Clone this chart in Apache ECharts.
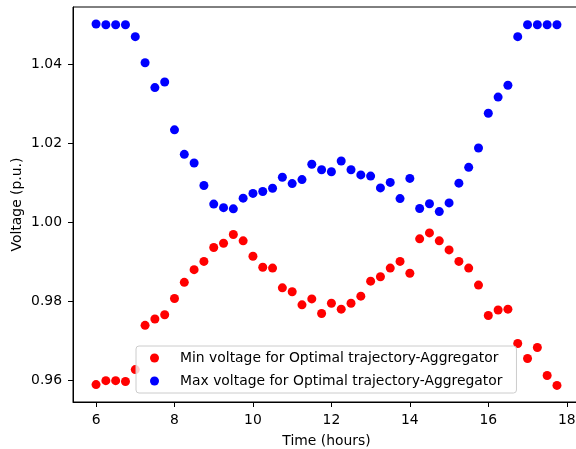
<!DOCTYPE html>
<html>
<head>
<meta charset="utf-8">
<script src="https://cdn.jsdelivr.net/npm/echarts@6/dist/echarts.min.js"></script>
<style>
	html, body { margin: 0; padding: 0; background: #fff; }
	#voltage-chart { width: 576px; height: 449px; }
</style>
</head>
<body>
<div id="voltage-chart"></div>
<script>
	// time of day, every 15 minutes
	const hours = [6, 6.25, 6.5, 6.75, 7, 7.25, 7.5, 7.75, 8, 8.25, 8.5, 8.75,
		9, 9.25, 9.5, 9.75, 10, 10.25, 10.5, 10.75, 11, 11.25, 11.5, 11.75,
		12, 12.25, 12.5, 12.75, 13, 13.25, 13.5, 13.75, 14, 14.25, 14.5, 14.75,
		15, 15.25, 15.5, 15.75, 16, 16.25, 16.5, 16.75, 17, 17.25, 17.5, 17.75];
	const minVoltage = [0.9589, 0.9599, 0.9599, 0.9597, 0.9627, 0.9739, 0.9755, 0.9766,
		0.9807, 0.9848, 0.9880, 0.9901, 0.9936, 0.9947, 0.9969, 0.9953,
		0.9914, 0.9886, 0.9884, 0.9834, 0.9824, 0.9791, 0.9806, 0.9769,
		0.9795, 0.9780, 0.9795, 0.9813, 0.9851, 0.9862, 0.9884, 0.9901,
		0.9871, 0.9958, 0.9973, 0.9953, 0.9930, 0.9901, 0.9884, 0.9841,
		0.9764, 0.9778, 0.9780, 0.9693, 0.9655, 0.9683, 0.9612, 0.9587];
	const maxVoltage = [1.0502, 1.0500, 1.0500, 1.0500, 1.0470, 1.0404, 1.0341, 1.0355,
		1.0234, 1.0172, 1.0150, 1.0093, 1.0046, 1.0037, 1.0034, 1.0061,
		1.0073, 1.0078, 1.0086, 1.0114, 1.0098, 1.0108, 1.0147, 1.0133,
		1.0128, 1.0155, 1.0133, 1.0120, 1.0117, 1.0087, 1.0101, 1.0060,
		1.0111, 1.0035, 1.0047, 1.0027, 1.0049, 1.0099, 1.0139, 1.0188,
		1.0276, 1.0317, 1.0347, 1.0470, 1.0500, 1.0500, 1.0500, 1.0500];
	const xTicks = [6, 8, 10, 12, 14, 16, 18];
	const yTicks = [0.96, 0.98, 1.00, 1.02, 1.04];
	const seriesNames = ['Min voltage for Optimal trajectory-Aggregator', 'Max voltage for Optimal trajectory-Aggregator'];

	function pairs(vals) {
		return hours.map((h, i) => [h, vals[i]]);
	}

	const font = 'DejaVu Sans';
	const fontSize = 13.9;
	let chart = echarts.init(document.getElementById('voltage-chart'), null, {renderer: 'canvas'});
	const option = {
		animation: false,
		grid: {
			left: 73,
			top: 7,
			width: 507,
			height: 395,
			outerBoundsMode: 'none',
			containLabel: false,
			show: true,
			borderColor: '#000',
			borderWidth: 1
		},
		legend: {
			orient: 'vertical',
			left: 136,
			top: 346,
			icon: 'circle',
			itemWidth: 9,
			itemHeight: 9,
			itemGap: 9,
			padding: [5, 14, 5, 14],
			backgroundColor: 'rgba(255,255,255,0.8)',
			borderColor: '#cccccc',
			borderWidth: 1,
			borderRadius: 3,
			textStyle: {
				fontFamily: font,
				fontSize: fontSize,
				color: '#000',
				padding: [0, 0, 0, 16]
			},
			data: seriesNames
		},
		xAxis: {
			type: 'value',
			min: 5.4125,
			max: 18.3375,
			name: 'Time (hours)',
			nameLocation: 'middle',
			nameGap: 32,
			nameMoveOverlap: false,
			nameTextStyle: {fontFamily: font, fontSize: fontSize, color: '#000'},
			axisLine: {show: true, onZero: false, lineStyle: {color: '#000'}},
			axisTick: {show: true, inside: false, length: 5, lineStyle: {color: '#000'}, customValues: xTicks},
			axisLabel: {fontFamily: font, fontSize: fontSize, color: '#000', margin: 11, customValues: xTicks},
			splitLine: {show: false}
		},
		yAxis: {
			type: 'value',
			min: 0.9545,
			max: 1.0545,
			name: 'Voltage (p.u.)',
			nameLocation: 'middle',
			nameGap: 49,
			nameMoveOverlap: false,
			nameTextStyle: {fontFamily: font, fontSize: fontSize, color: '#000'},
			axisLine: {show: true, onZero: false, lineStyle: {color: '#000'}},
			axisTick: {show: true, inside: false, length: 5, lineStyle: {color: '#000'}, customValues: yTicks},
			axisLabel: {
				fontFamily: font,
				fontSize: fontSize,
				color: '#000',
				margin: 11,
				customValues: yTicks,
				formatter: (v) => v.toFixed(2)
			},
			splitLine: {show: false}
		},
		series: [{
				name: seriesNames[0],
				type: 'scatter',
				symbol: 'circle',
				symbolSize: 9,
				itemStyle: {color: '#ff0000', opacity: 1},
				data: pairs(minVoltage)
			},
			{
				name: seriesNames[1],
				type: 'scatter',
				symbol: 'circle',
				symbolSize: 9,
				itemStyle: {color: '#0000ff', opacity: 1},
				data: pairs(maxVoltage)
			}
		]
	};
	chart.setOption(option);
</script>
</body>
</html>
